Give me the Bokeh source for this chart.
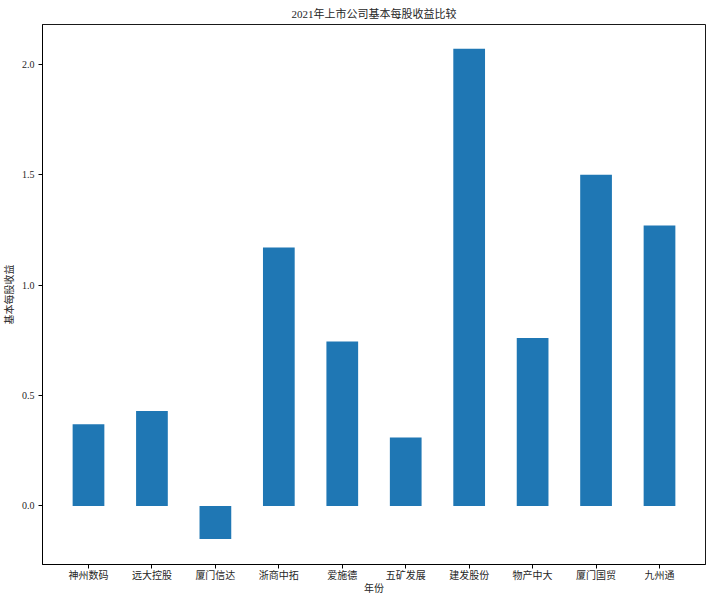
from bokeh.plotting import figure
from bokeh.models import FactorRange, Range1d, FixedTicker, ColumnDataSource
from bokeh.embed import file_html
from bokeh.resources import INLINE

companies = ["神州数码", "远大控股", "厦门信达", "浙商中拓", "爱施德",
             "五矿发展", "建发股份", "物产中大", "厦门国贸", "九州通"]
eps = [0.37, 0.43, -0.15, 1.17, 0.745, 0.31, 2.07, 0.76, 1.50, 1.27]
y_ticks = [0.0, 0.5, 1.0, 1.5, 2.0]

FONT = "'Liberation Serif', 'Noto Sans CJK SC'"
TXT = "#262626"

src = ColumnDataSource(dict(x=companies, top=eps))

p = figure(
    x_range=FactorRange(*companies, range_padding=0.225, range_padding_units="absolute",
                        factor_padding=0.0),
    y_range=Range1d(-0.265, 2.18),
    width=708, height=596,
    output_backend="svg", toolbar_location=None,
    min_border_left=40, min_border_right=3, min_border_top=0, min_border_bottom=0,
    title="2021年上市公司基本每股收益比较",
)

p.vbar(x="x", top="top", bottom=0, width=0.5, source=src,
       fill_color="#1f77b4", line_color=None)

p.title.align = "center"
p.title.text_font = FONT
p.title.text_font_size = "11px"
p.title.text_font_style = "normal"
p.title.text_color = TXT
p.title.standoff = 10

p.xgrid.visible = False
p.ygrid.visible = False
p.outline_line_color = "#000000"
p.outline_line_width = 1
p.outline_line_alpha = 0.9

p.yaxis.ticker = FixedTicker(ticks=y_ticks)
p.yaxis.major_label_overrides = {t: f"{t:.1f}" for t in y_ticks}

for ax in (p.xaxis, p.yaxis):
    ax.axis_line_color = "#000000"
    ax.major_tick_line_color = "#000000"
    ax.major_tick_out = 4
    ax.major_tick_in = 0
    ax.minor_tick_line_color = None
    ax.major_label_text_font = FONT
    ax.major_label_text_font_size = "10px"
    ax.major_label_text_color = TXT
    ax.axis_label_text_font = FONT
    ax.axis_label_text_font_size = "10px"
    ax.axis_label_text_font_style = "normal"
    ax.axis_label_text_color = TXT
    ax.major_label_standoff = 4
    ax.axis_label_standoff = 4

p.xaxis.major_label_standoff = 1
p.xaxis.axis_label_standoff = -1

p.xaxis.axis_label = "年份"
p.yaxis.axis_label = "基本每股收益"

open("out.html", "w").write(file_html(p, INLINE))
